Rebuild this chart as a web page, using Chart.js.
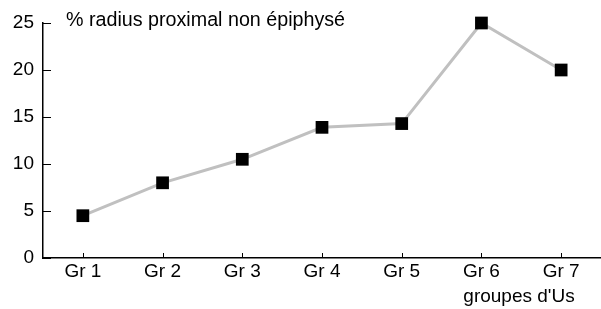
<!DOCTYPE html>
<html><head><meta charset="utf-8">
<script src="https://cdn.jsdelivr.net/npm/chart.js@4.4.1/dist/chart.umd.min.js"></script>
<style>html,body{margin:0;padding:0;background:#fff;overflow:hidden}#w{width:601px;height:309px}</style>
</head><body><div id="w"><canvas id="c"></canvas></div>
<script>
const categories = ["Gr 1","Gr 2","Gr 3","Gr 4","Gr 5","Gr 6","Gr 7"];
const values = [4.5, 8, 10.5, 13.9, 14.3, 25, 20];
const yTicks = [0, 5, 10, 15, 20, 25];
const chartTitle = "% radius proximal non épiphysé";
const xTitle = "groupes d'Us";

const FONT = "'Liberation Sans', Arial, Helvetica, sans-serif";

const deco = {
  id: 'deco',
  afterDraw(chart) {
    const ctx = chart.ctx, x = chart.scales.x, y = chart.scales.y;
    const a = chart.chartArea;
    ctx.save();
    ctx.strokeStyle = '#000'; ctx.lineWidth = 1;
    for (let i = 0; i < categories.length; i++) {
      const px = Math.round(x.getPixelForValue(i)) + 0.5;
      ctx.beginPath(); ctx.moveTo(px, a.bottom); ctx.lineTo(px, a.bottom - 5); ctx.stroke();
    }
    yTicks.forEach(v => {
      const py = Math.round(y.getPixelForValue(v)) + 0.5;
      ctx.beginPath(); ctx.moveTo(a.left, py); ctx.lineTo(a.left + 8, py); ctx.stroke();
    });
    ctx.fillStyle = '#000';
    ctx.textBaseline = 'alphabetic';
    ctx.textAlign = 'left';
    ctx.font = '19.7px ' + FONT;
    ctx.fillText(chartTitle, 66, 26);
    ctx.font = '19px ' + FONT;
    ctx.textAlign = 'center';
    ctx.fillText(xTitle, 519, 302);
    ctx.restore();
  }
};

new Chart(document.getElementById('c'), {
  type: 'line',
  data: {
    labels: categories,
    datasets: [{
      data: values,
      borderColor: '#c0c0c0',
      borderWidth: 3,
      pointStyle: 'rect',
      pointRadius: 9,
      pointHoverRadius: 9,
      pointBackgroundColor: '#000',
      pointBorderColor: '#000',
      pointBorderWidth: 0,
      tension: 0,
      clip: false
    }]
  },
  options: {
    responsive: true,
    maintainAspectRatio: false,
    animation: false,
    devicePixelRatio: 1,
    layout: { autoPadding: false, padding: { top: 23, right: 0, left: 0, bottom: 0 } },
    plugins: { legend: { display: false }, tooltip: { enabled: false } },
    scales: {
      x: {
        offset: true,
        grid: { display: true, drawOnChartArea: false, drawTicks: false, color: 'rgba(0,0,0,0)' },
        border: { display: true, color: '#000', width: 1.5 },
        ticks: { color: '#000', font: { family: FONT, size: 19 }, padding: 2, maxRotation: 0, autoSkip: false },
        afterFit(s) { s.height = 51; s.paddingLeft = 0; s.paddingRight = 0; }
      },
      y: {
        min: 0, max: 25,
        afterBuildTicks(s) { s.ticks = yTicks.map(v => ({ value: v })); },
        grid: { display: true, drawOnChartArea: false, drawTicks: false, color: 'rgba(0,0,0,0)' },
        border: { display: true, color: '#000', width: 1.5 },
        ticks: { color: '#000', font: { family: FONT, size: 19 }, padding: 9 },
        afterFit(s) { s.width = 43; s.paddingTop = 0; s.paddingBottom = 0; }
      }
    }
  },
  plugins: [deco]
});
</script></body></html>
